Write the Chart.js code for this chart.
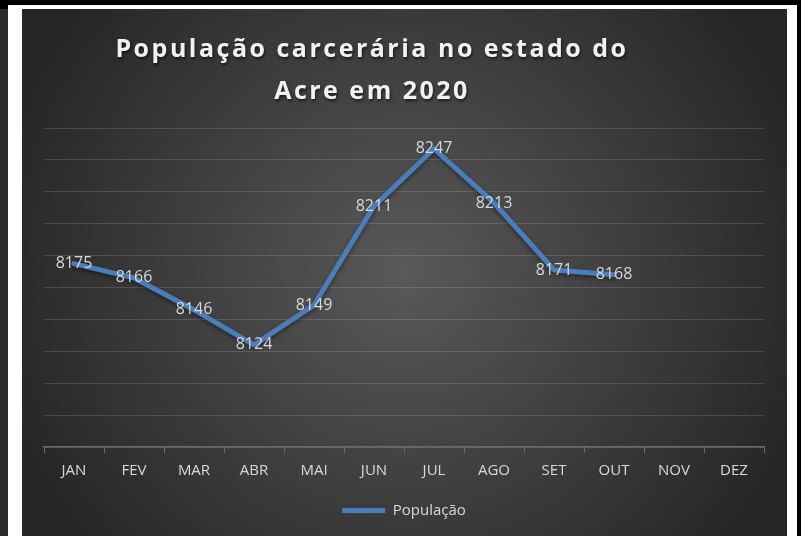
<!DOCTYPE html>
<html>
<head>
<meta charset="utf-8">
<script src="https://cdn.jsdelivr.net/npm/chart.js@4/dist/chart.umd.min.js"></script>
<style>
  html, body { margin: 0; padding: 0; background: #000; }
  #page { position: relative; width: 801px; height: 536px; overflow: hidden; background: #000; }
  #white { position: absolute; left: 8px; top: 5px; width: 789px; height: 531px; background: #fff; }
  #strip { position: absolute; left: 0; top: 9px; width: 8px; height: 527px; background: #2a2a2a; }
  #box { position: absolute; left: 22px; top: 9px; width: 765px; height: 527px; }
</style>
</head>
<body>
<div id="page">
  <div id="white"></div>
  <div id="strip"></div>
  <div id="box"><canvas id="myChart"></canvas></div>
</div>
<script>
// data
var months = ['JAN', 'FEV', 'MAR', 'ABR', 'MAI', 'JUN', 'JUL', 'AGO', 'SET', 'OUT', 'NOV', 'DEZ'];
var populacao = [8175, 8166, 8146, 8124, 8149, 8211, 8247, 8213, 8171, 8168, null, null];
var titleLines = ['População carcerária no estado do', 'Acre em 2020'];
var seriesName = 'População';
var yMin = 8060, yMax = 8260, yStep = 20;

var bgPlugin = {
    id: 'bg',
    beforeDraw: function (chart) {
        var ctx = chart.ctx, w = chart.width, h = chart.height;
        ctx.save();
        var g = ctx.createRadialGradient(w * 0.5, h * 0.5, 0, w * 0.5, h * 0.5, w * 0.55);
        g.addColorStop(0, '#595959');
        g.addColorStop(1, '#262626');
        ctx.fillStyle = g;
        ctx.fillRect(0, 0, w, h);
        // title
        ctx.font = 'bold 25px "Open Sans"';
        ctx.letterSpacing = '2.5px';
        ctx.textAlign = 'center';
        ctx.textBaseline = 'middle';
        ctx.shadowColor = 'rgba(0,0,0,0.6)';
        ctx.shadowBlur = 3;
        ctx.shadowOffsetX = 1;
        ctx.shadowOffsetY = 2;
        ctx.fillStyle = '#f2f2f2';
        ctx.fillText(titleLines[0], 350, 41);
        ctx.fillText(titleLines[1], 350, 83);
        ctx.restore();
    }
};

var shadowPlugin = {
    id: 'lineShadow',
    beforeDatasetDraw: function (chart) {
        var ctx = chart.ctx;
        ctx.save();
        ctx.shadowColor = 'rgba(0,0,0,0.45)';
        ctx.shadowBlur = 4;
        ctx.shadowOffsetY = 2;
    },
    afterDatasetDraw: function (chart) {
        chart.ctx.restore();
    }
};

var labelPlugin = {
    id: 'valueLabels',
    afterDatasetsDraw: function (chart) {
        var ctx = chart.ctx;
        var meta = chart.getDatasetMeta(0);
        ctx.save();
        ctx.font = '16px "Open Sans"';
        ctx.fillStyle = '#d9d9d9';
        ctx.textAlign = 'center';
        ctx.textBaseline = 'middle';
        meta.data.forEach(function (pt, i) {
            var v = populacao[i];
            if (v === null) return;
            ctx.fillText(String(v), pt.x, pt.y);
        });
        ctx.restore();
    }
};

var ctx = document.getElementById('myChart').getContext('2d');
var myChart = new Chart(ctx, {
    type: 'line',
    data: {
        labels: months,
        datasets: [{
            label: seriesName,
            data: populacao,
            borderColor: '#4a7ebb',
            backgroundColor: '#4a7ebb',
            borderWidth: 5,
            borderJoinStyle: 'round',
            borderCapStyle: 'round',
            pointRadius: 0,
            pointHoverRadius: 0,
            pointStyle: 'line',
            tension: 0,
            spanGaps: false
        }]
    },
    options: {
        responsive: true,
        maintainAspectRatio: false,
        animation: false,
        layout: { padding: { left: 22, right: 23, top: 119, bottom: 8 } },
        plugins: {
            title: { display: false },
            tooltip: { enabled: false },
            legend: {
                position: 'bottom',
                labels: {
                    usePointStyle: true,
                    pointStyleWidth: 43,
                    padding: 10,
                    color: '#d9d9d9',
                    font: { family: 'Open Sans', size: 15 }
                }
            }
        },
        scales: {
            x: {
                offset: true,
                grid: { offset: true, drawOnChartArea: false, drawTicks: true, tickLength: 6, color: '#6a6a6a' },
                border: { display: true, color: '#6a6a6a', width: 1.5 },
                ticks: { color: '#d9d9d9', padding: 9, font: { family: 'Open Sans', size: 15 } },
                afterFit: function (s) { s.height = 46; }
            },
            y: {
                min: yMin,
                max: yMax,
                ticks: { display: false, stepSize: yStep },
                grid: { color: 'rgba(255,255,255,0.14)', drawTicks: false },
                border: { display: false },
                afterFit: function (s) { s.width = 0; }
            }
        }
    },
    plugins: [bgPlugin, shadowPlugin, labelPlugin]
});
</script>
</body>
</html>
